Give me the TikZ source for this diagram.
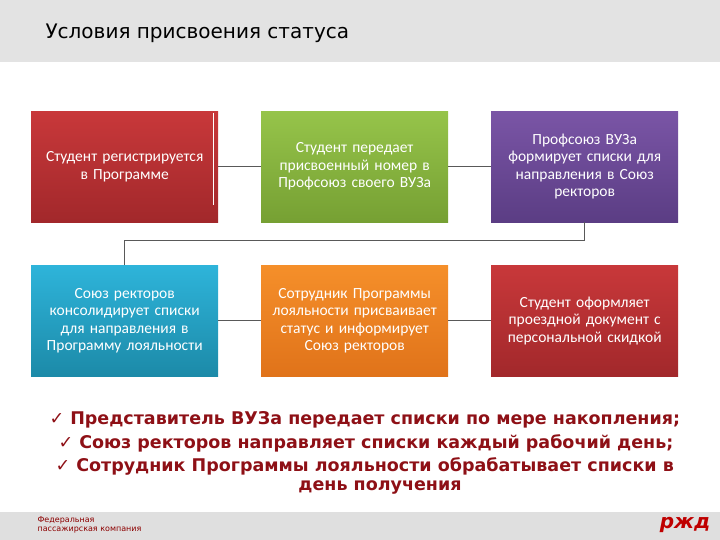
\documentclass[tikz,border=0pt]{standalone}
\usepackage{fontspec}
\setmainfont{Carlito}
\newfontfamily\dv{DejaVu Sans}
\definecolor{c1a}{HTML}{C8383A}\definecolor{c1b}{HTML}{A2282B}
\definecolor{c2a}{HTML}{96C44A}\definecolor{c2b}{HTML}{76A033}
\definecolor{c3a}{HTML}{7A55A6}\definecolor{c3b}{HTML}{5B3D84}
\definecolor{c4a}{HTML}{2EB4DA}\definecolor{c4b}{HTML}{1C8AA8}
\definecolor{c5a}{HTML}{F58F2A}\definecolor{c5b}{HTML}{E0731A}
\definecolor{tr}{HTML}{8E1016}
\begin{document}
\begin{tikzpicture}[x=1pt,y=-1pt,
  bx/.style={minimum width=187pt,minimum height=111pt,inner sep=0pt,text width=182pt,align=center,text=white,font=\fontsize{15.5}{17.5}\selectfont,anchor=north west},
  ln/.style={draw=gray!70!black,line width=1pt},
  bl/.style={text=tr,font=\dv\bfseries\fontsize{17.5}{19}\selectfont,anchor=west}]
\useasboundingbox (0,0) rectangle (720,540);
\fill[gray!22] (0,0) rectangle (720,62);
\node[anchor=west,font=\dv\fontsize{20}{22}\selectfont] (t) at (42,33) {Условия присвоения статуса};
\fill[gray!25] (0,512) rectangle (720,540);
\node[anchor=west,align=left,text=red!55!black,font=\dv\fontsize{8}{9}\selectfont] (f) at (34,525) {Федеральная\\пассажирская компания};
\node[text=red!75!black,font=\dv\bfseries\itshape\fontsize{20}{20}\selectfont] (logo) at (685,525) {pжд};
\node[bx,top color=c1a,bottom color=c1b] (b1) at (31,111) {Студент регистрируется\\в Программе};
\node[bx,top color=c2a,bottom color=c2b] (b2) at (261,111) {Студент передает\\присвоенный номер в\\Профсоюз своего ВУЗа};
\node[bx,top color=c3a,bottom color=c3b] (b3) at (491,111) {Профсоюз ВУЗа\\формирует списки для\\направления в Союз\\ректоров};
\node[bx,top color=c4a,bottom color=c4b] (b4) at (31,265) {Союз ректоров\\консолидирует списки\\для направления в\\Программу лояльности};
\node[bx,top color=c5a,bottom color=c5b] (b5) at (261,265) {Сотрудник Программы\\лояльности присваивает\\статус и информирует\\Союз ректоров};
\node[bx,top color=c1a,bottom color=c1b] (b6) at (491,265) {Студент оформляет\\проездной документ с\\персональной скидкой};
\draw[white,line width=1pt] (213,113) -- (213,205);
\draw[ln] (b1.east) -- (b2.west);
\draw[ln] (b2.east) -- (b3.west);
\draw[ln] (b3.south) -- ++(0,18) -| (b4.north);
\draw[ln] (b4.east) -- (b5.west);
\draw[ln] (b5.east) -- (b6.west);
\node[bl] (l1) at (46,420) {✓ Представитель ВУЗа передает списки по мере накопления;};
\node[bl] (l2) at (55,443) {✓ Союз ректоров направляет списки каждый рабочий день;};
\node[bl] (l3) at (52,466) {✓ Сотрудник Программы лояльности обрабатывает списки в};
\node[text=tr,font=\dv\bfseries\fontsize{17.5}{19}\selectfont] (l4) at (380,487) {день получения};
\end{tikzpicture}
\end{document}
